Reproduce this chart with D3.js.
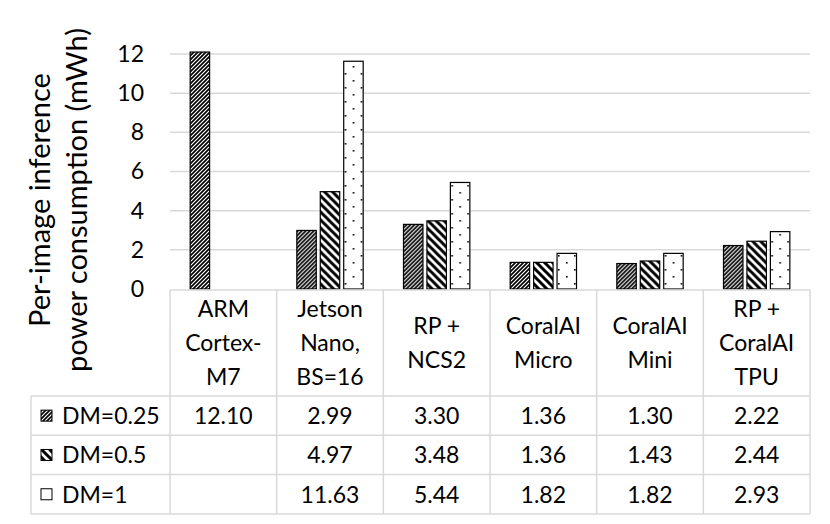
<!DOCTYPE html>
<html>
<head>
<meta charset="utf-8">
<script src="https://cdn.jsdelivr.net/npm/d3@7"></script>
<style>
  body { margin: 0; background: #fff; }
  text { font-family: Lato, "Open Sans", sans-serif; fill: #000; }
</style>
</head>
<body>
<div id="container"></div>
<script>
// data
const categories = [
  ["ARM", "Cortex-", "M7"],
  ["Jetson", "Nano,", "BS=16"],
  ["RP +", "NCS2"],
  ["CoralAI", "Micro"],
  ["CoralAI", "Mini"],
  ["RP +", "CoralAI", "TPU"]
];
const seriesNames = ["DM=0.25", "DM=0.5", "DM=1"];
const dm025 = [12.10, 2.99, 3.30, 1.36, 1.30, 2.22];
const dm05 = [null, 4.97, 3.48, 1.36, 1.43, 2.44];
const dm1 = [null, 11.63, 5.44, 1.82, 1.82, 2.93];
const yTicks = [0, 2, 4, 6, 8, 10, 12];
const yTitle = ["Per-image inference", "power consumption (mWh)"];

const seriesValues = [dm025, dm05, dm1];

const w = 830;
const h = 524;
const plotLeft = 170;
const plotRight = 810;
const plotTop = 54;
const plotBottom = 289;
const labelLeft = 31;
const headerBottom = 396;
const rowH = 39.3;
const grid = "#d9d9d9";

const svg = d3.select("#container")
  .append("svg")
  .attr("width", w)
  .attr("height", h);

// hatch patterns
const defs = svg.append("defs");

const p1 = defs.append("pattern")
  .attr("id", "pat0")
  .attr("patternUnits", "userSpaceOnUse")
  .attr("width", 4).attr("height", 4);
p1.append("rect").attr("width", 4).attr("height", 4).attr("fill", "#fff");
p1.append("path")
  .attr("d", "M-1,1 L1,-1 M0,4 L4,0 M3,5 L5,3")
  .attr("stroke", "#000").attr("stroke-width", 1.7);

const p2 = defs.append("pattern")
  .attr("id", "pat1")
  .attr("patternUnits", "userSpaceOnUse")
  .attr("width", 8).attr("height", 8);
p2.append("rect").attr("width", 8).attr("height", 8).attr("fill", "#fff");
p2.append("path")
  .attr("d", "M-2,-2 L10,10 M-2,6 L2,10 M6,-2 L10,2")
  .attr("stroke", "#000").attr("stroke-width", 3);

const p3 = defs.append("pattern")
  .attr("id", "pat2")
  .attr("patternUnits", "userSpaceOnUse")
  .attr("width", 16).attr("height", 14);
p3.append("rect").attr("width", 16).attr("height", 14).attr("fill", "#fff");
p3.append("rect").attr("x", 4).attr("y", 3).attr("width", 1.6).attr("height", 1.6).attr("fill", "#000");
p3.append("rect").attr("x", 12).attr("y", 10).attr("width", 1.6).attr("height", 1.6).attr("fill", "#000");

// scales
const x0 = d3.scaleBand()
  .domain(d3.range(categories.length))
  .range([plotLeft, plotRight]);

const x1 = d3.scaleBand()
  .domain(d3.range(seriesNames.length))
  .range([0, x0.bandwidth()])
  .paddingInner(0.17)
  .paddingOuter(0.86);

const yScale = d3.scaleLinear()
  .domain([0, 12])
  .range([plotBottom, plotTop]);

// gridlines
svg.append("g")
  .selectAll("line")
  .data(yTicks.slice(1))
  .enter()
  .append("line")
  .attr("x1", plotLeft)
  .attr("x2", plotRight)
  .attr("y1", d => yScale(d))
  .attr("y2", d => yScale(d))
  .attr("stroke", grid)
  .attr("stroke-width", 1.5);

// y axis labels only
const yAxis = d3.axisLeft(yScale)
  .tickValues(yTicks)
  .tickSize(0)
  .tickPadding(0);

const yg = svg.append("g")
  .attr("transform", "translate(144,0)")
  .call(yAxis);
yg.select(".domain").remove();
yg.selectAll("text")
  .attr("font-size", 23)
  .attr("font-family", "Lato, sans-serif")
  .attr("fill", "#000");

// y title
const yt = svg.append("text")
  .attr("transform", "translate(57,200) rotate(-90)")
  .attr("text-anchor", "middle")
  .attr("font-size", 29);
yt.selectAll("tspan")
  .data(yTitle)
  .enter()
  .append("tspan")
  .attr("x", 0)
  .attr("dy", (d, i) => i === 0 ? "-0.25em" : "1.28em")
  .text(d => d);

// bars
const groups = svg.append("g")
  .selectAll("g")
  .data(categories)
  .enter()
  .append("g")
  .attr("transform", (d, i) => "translate(" + x0(i) + ",0)");

groups.selectAll("rect")
  .data((d, i) => seriesValues.map((s, j) => ({ s: j, v: s[i] })).filter(e => e.v != null))
  .enter()
  .append("rect")
  .attr("x", d => x1(d.s))
  .attr("y", d => yScale(d.v))
  .attr("width", x1.bandwidth())
  .attr("height", d => plotBottom - yScale(d.v))
  .attr("fill", d => "url(#pat" + d.s + ")")
  .attr("stroke", "#000")
  .attr("stroke-width", 1.2);

// data table
const tableTop = plotBottom + 1;
const tableBottom = headerBottom + rowH * seriesNames.length;
const tbl = svg.append("g")
  .attr("stroke", grid)
  .attr("stroke-width", 1.5);

// horizontal lines
tbl.append("line")
  .attr("x1", plotLeft).attr("x2", plotRight)
  .attr("y1", tableTop).attr("y2", tableTop);
tbl.selectAll("line.row")
  .data(d3.range(seriesNames.length + 1))
  .enter()
  .append("line")
  .attr("class", "row")
  .attr("x1", labelLeft).attr("x2", plotRight)
  .attr("y1", d => headerBottom + d * rowH)
  .attr("y2", d => headerBottom + d * rowH);

// vertical lines
tbl.append("line")
  .attr("x1", labelLeft).attr("x2", labelLeft)
  .attr("y1", headerBottom).attr("y2", tableBottom);
tbl.selectAll("line.col")
  .data(d3.range(categories.length + 1))
  .enter()
  .append("line")
  .attr("class", "col")
  .attr("x1", d => plotLeft + d * x0.bandwidth())
  .attr("x2", d => plotLeft + d * x0.bandwidth())
  .attr("y1", tableTop)
  .attr("y2", tableBottom);

// header text
const lineGap = 34;
const headerMid = (tableTop + headerBottom) / 2;
const heads = svg.append("g")
  .selectAll("text")
  .data(categories)
  .enter()
  .append("text")
  .attr("text-anchor", "middle")
  .attr("font-size", 23)
  .attr("x", (d, i) => x0(i) + x0.bandwidth() / 2);
heads.selectAll("tspan")
  .data(d => d.map((t, k) => ({ t: t, k: k, n: d.length })))
  .enter()
  .append("tspan")
  .attr("x", function() { return this.parentNode.getAttribute("x"); })
  .attr("y", d => headerMid + (d.k - (d.n - 1) / 2) * lineGap)
  .attr("dy", "0.36em")
  .text(d => d.t);

// row labels with legend keys
seriesNames.forEach((name, j) => {
  const cy = headerBottom + rowH * j + rowH / 2;
  svg.append("rect")
    .attr("x", 41)
    .attr("y", cy - 5.5)
    .attr("width", 11)
    .attr("height", 11)
    .attr("fill", "url(#pat" + j + ")")
    .attr("stroke", "#000")
    .attr("stroke-width", 1);
  svg.append("text")
    .attr("x", 62)
    .attr("y", cy)
    .attr("dy", "0.36em")
    .attr("font-size", 23)
    .text(name);
  svg.append("g")
    .selectAll("text")
    .data(seriesValues[j])
    .enter()
    .append("text")
    .attr("x", (d, i) => x0(i) + x0.bandwidth() / 2)
    .attr("y", cy)
    .attr("dy", "0.36em")
    .attr("text-anchor", "middle")
    .attr("font-size", 23)
    .text(d => d == null ? "" : d.toFixed(2));
});
</script>
</body>
</html>
